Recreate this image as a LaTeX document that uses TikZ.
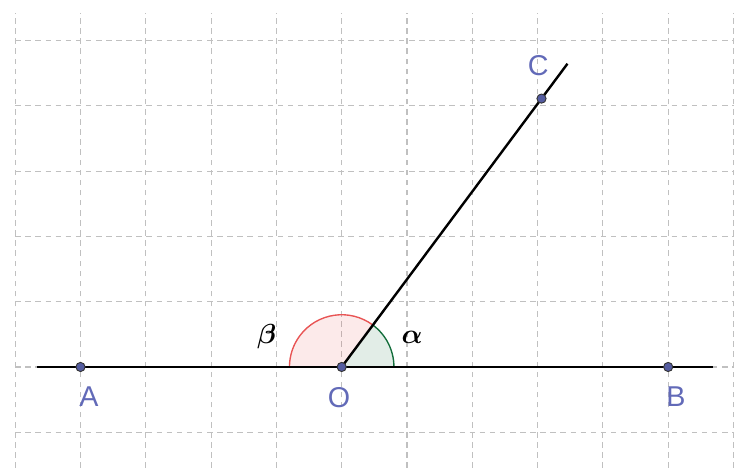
\documentclass[tikz,border=0pt]{standalone}
\usepackage{amsmath,amssymb,bm}
\usepackage{fontspec}
\setmainfont{Liberation Sans}
\usepackage{tikz}
\usetikzlibrary{calc,positioning}
\definecolor{ggrid}{RGB}{192,192,192}
\definecolor{ptblue}{RGB}{98,106,184}
\definecolor{ptfill}{RGB}{84,92,160}
\definecolor{angred}{RGB}{232,84,84}
\definecolor{anggreen}{RGB}{20,110,60}
\tikzset{
  gridln/.style={ggrid,dash pattern=on 2.4pt off 2pt,line width=0.5pt},
  seg/.style={black,line width=1.05pt},
  pt/.style={circle,draw=black!80,fill=ptfill,line width=0.4pt,inner sep=0pt,minimum size=4pt},
  lbl/.style={text=ptblue,font=\fontsize{12.5}{13}\selectfont},
  alab/.style={font=\fontsize{12.5}{13}\selectfont},
}
\begin{document}
\begin{tikzpicture}
 \useasboundingbox (-5.233,-1.547) rectangle (6.008,5.62);
 % grid
 \foreach \i in {-5,...,6}{\draw[gridln] (\i,-1.547) -- (\i,5.42);}
 \foreach \j in {-1,...,5}{\draw[gridln] (-5,\j) -- (6.008,\j);}
 \coordinate (O) at (0,0);
 \coordinate (A) at (-4,0);
 \coordinate (B) at (5,0);
 \coordinate (C) at (3.06,4.11);
 \coordinate (l1) at (-4.67,0);
 \coordinate (l2) at (5.69,0);
 \coordinate (c2) at ($(O)!1.13!(C)$);
 % angles
 \fill[angred,fill opacity=0.12] (O) -- ++(53.33:0.8) arc (53.33:180:0.8) -- cycle;
 \draw[angred,line width=0.6pt] ($(O)+(53.33:0.8)$) arc (53.33:180:0.8);
 \fill[anggreen,fill opacity=0.12] (O) -- ++(0:0.8) arc (0:53.33:0.8) -- cycle;
 \draw[anggreen,line width=0.6pt] ($(O)+(0:0.8)$) arc (0:53.33:0.8);
 % lines
 \draw[seg] (l1) -- (l2);
 \draw[seg] (O) -- (c2);
 % points
 \node[pt] (dA) at (A) {};
 \node[pt] (dB) at (B) {};
 \node[pt] (dO) at (O) {};
 \node[pt] (dC) at (C) {};
 \node[lbl] (nA) at (-3.87,-0.46) {A};
 \node[lbl] (nB) at (5.12,-0.45) {B};
 \node[lbl] (nO) at (-0.04,-0.47) {O};
 \node[lbl] (nC) at (3.01,4.61) {C};
 \node[alab] (nbeta) at (-1.15,0.47) {$\bm{\beta}$};
 \node[alab] (nalpha) at (1.08,0.46) {$\bm{\alpha}$};
\end{tikzpicture}
\end{document}
